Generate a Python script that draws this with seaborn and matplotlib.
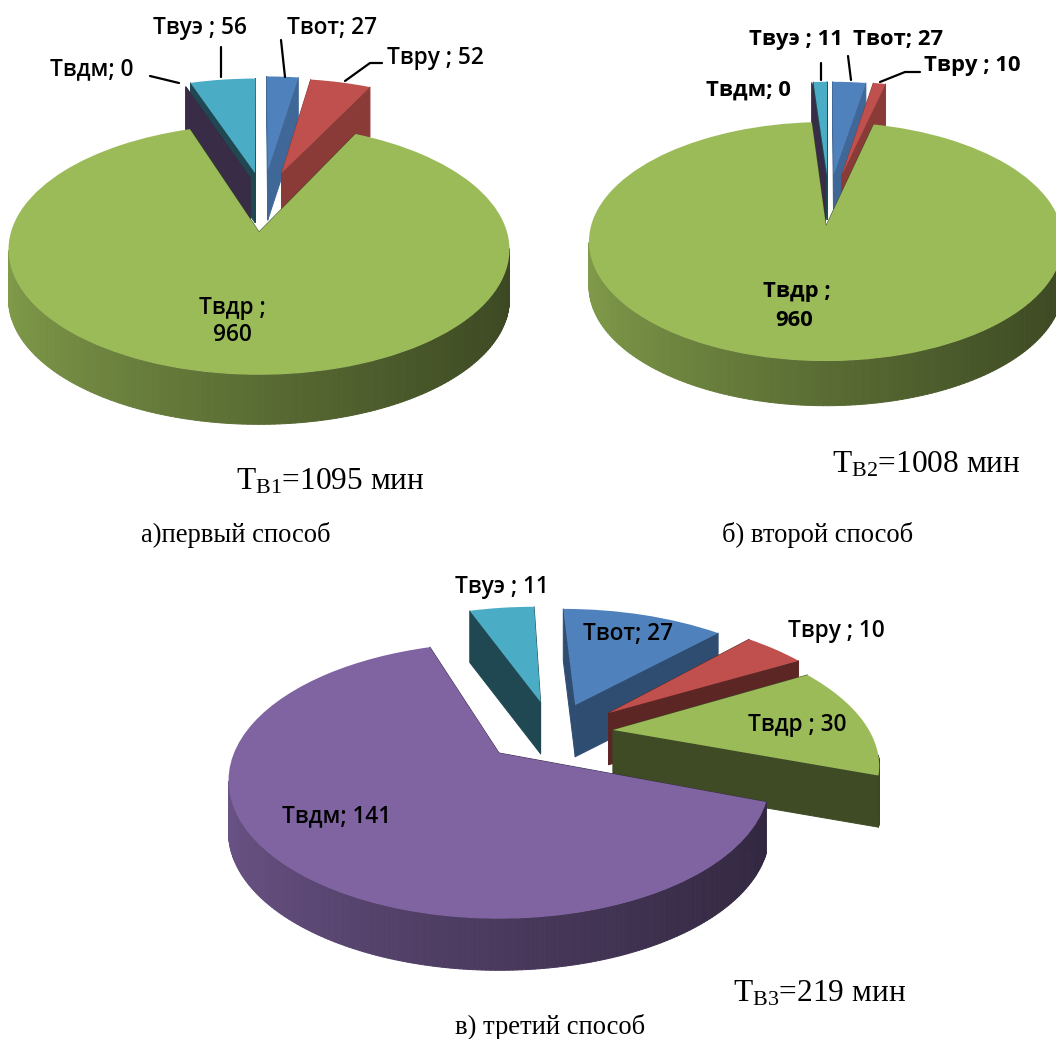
import numpy as np
import seaborn as sns
import matplotlib
matplotlib.use('Agg')
import matplotlib.pyplot as plt
from matplotlib.collections import PolyCollection
from matplotlib.colors import to_rgb
from matplotlib.transforms import Transform

sns.set_theme(style='white')
plt.rcParams['font.family'] = ['Open Sans', 'DejaVu Sans']
plt.rcParams['mathtext.fontset'] = 'custom'
plt.rcParams['mathtext.rm'] = 'Liberation Serif'

W, H = 1056, 1039

# данные
names = ['Твот', 'Твру', 'Твдр', 'Твдм', 'Твуэ']
values_1 = [27, 52, 960, 0, 56]
values_2 = [27, 10, 960, 0, 11]
values_3 = [27, 10, 30, 141, 11]
totals = ['1095', '1008', '219']

base_colors = ['#4f81bd', '#c0504d', '#9bbb59', '#8064a2', '#4bacc6']


class Perspective(Transform):
    # наклон круга: дальний край сжат, ближний растянут
    input_dims = output_dims = 2

    def __init__(self, p, k):
        super().__init__()
        self.p, self.k = p, k

    def transform_non_affine(self, values):
        values = np.asarray(values)
        s = 1 / (1 + self.p * values[:, 1])
        return np.column_stack([values[:, 0] * s, self.k * values[:, 1] * s])


def scale(color, f):
    return tuple(c * f for c in to_rgb(color))


def pie3d(values, cx, cy, a, p, k, depth, offsets, inner, order, lim=2.0):
    ax = fig.add_axes([(cx - lim * a) / W, 1 - (cy + lim * a) / H, 2 * lim * a / W, 2 * lim * a / H])
    wedges, _ = ax.pie(values, colors=base_colors, startangle=90, counterclock=False,
                       wedgeprops={'linewidth': 0})
    ax.set_aspect('auto')
    ax.set_xlim(-lim, lim)
    ax.set_ylim(-lim, lim)
    ax.axis('off')
    persp = Perspective(p, k)

    for rank, i in enumerate(order):
        w = wedges[i]
        w.set_center(offsets[i])
        w.set_transform(persp + ax.transData)
        w.set_zorder(10 + rank + 0.5)
        x0, y0 = offsets[i]
        t = np.radians(np.linspace(w.theta1, w.theta2, 300))
        rim = persp.transform_non_affine(np.column_stack([x0 + np.cos(t), y0 + np.sin(t)]))
        apex = persp.transform_non_affine(np.array([[x0, y0]]))[0]
        grad = sns.blend_palette([scale(base_colors[i], 0.84), scale(base_colors[i], 0.38)], 256)
        drop = np.array([0, depth])

        quads, cols = [], []
        # боковые стенки от центра к краю
        for end in (rim[0], rim[-1]):
            quads.append([apex, end, end - drop, apex - drop])
            cols.append(scale(base_colors[i], inner[i]))
        # внешняя стенка, только передняя часть
        for j in range(len(t) - 1):
            if np.sin(t[j]) > -p:
                continue
            quads.append([rim[j], rim[j + 1], rim[j + 1] - drop, rim[j] - drop])
            f = ((np.cos(t[j]) + 1) / 2) ** 0.8
            cols.append(grad[int(f * 255)])
        ax.add_collection(PolyCollection(quads, facecolors=cols, edgecolors=cols, linewidths=0.7,
                                         zorder=10 + rank))
    return ax


fig = plt.figure(figsize=(W / 100, H / 100), dpi=100)

pie3d(values_1, 259, 232, 248, 0.14, 0.495, 0.2,
      offsets=[(0.038, 0.54), (0.098, 0.515), (0, 0), (-0.038, 0.468), (-0.017, 0.515)],
      inner=[0.8, 0.72, 0.4, 0.44, 0.42], order=[4, 3, 0, 1, 2])
pie3d(values_2, 826, 226, 235, 0.13, 0.5, 0.19,
      offsets=[(0.034, 0.46), (0.072, 0.46), (0, 0), (-0.003, 0.45), (0.005, 0.46)],
      inner=[0.8, 0.72, 0.4, 0.44, 0.42], order=[4, 3, 0, 1, 2])
pie3d(values_3, 499, 753, 265, 0.2, 0.5, 0.195,
      offsets=[(0.31, 0.39), (0.44, 0.321), (0.446, 0.18), (0, 0), (0.17, 0.416)],
      inner=[0.6, 0.48, 0.4, 0.44, 0.42], order=[4, 0, 1, 2, 3])

# подписи в пикселях картинки
over = fig.add_axes([0, 0, 1, 1], zorder=50)
over.set_xlim(0, W)
over.set_ylim(H, 0)
over.axis('off')


def label(x, y, s, weight=600, size=16.3):
    over.text(x, y, s, ha='center', va='center', fontsize=size, fontweight=weight, color='black')


for x, y, i, sep in [(200, 28, 4, ' ; '), (332, 28, 0, '; '), (435, 58, 1, ' ; '), (92, 69, 3, '; ')]:
    label(x, y, f'{names[i]}{sep}{values_1[i]}')
label(232, 308, f'{names[2]} ;')
label(232, 335, str(values_1[2]))

for x, y, i, sep in [(796, 40, 4, ' ; '), (898, 40, 0, '; '), (972, 65, 1, ' ; '), (748, 90, 3, '; ')]:
    label(x, y, f'{names[i]}{sep}{values_2[i]}', weight='bold', size=15.8)
label(797, 291, f'{names[2]} ;', weight='bold', size=15.8)
label(794, 321, str(values_2[2]), weight='bold', size=15.8)

for x, y, i, sep in [(502, 587, 4, ' ; '), (628, 634, 0, '; '), (836, 631, 1, ' ; '),
                     (797, 725, 2, ' ; '), (337, 816, 3, '; ')]:
    label(x, y, f'{names[i]}{sep}{values_3[i]}')

# выноски
leaders = [([221, 221], [47, 77]), ([281, 285], [40, 77]), ([345, 370, 382], [81, 63, 63]),
           ([150, 179], [76, 83]), ([821, 821], [63, 80]), ([848, 851], [56, 80]),
           ([880, 905, 920], [82, 72, 72])]
for xs, ys in leaders:
    over.plot(xs, ys, color='black', lw=1.6)

# итоги и подписи способов
for x, y, sub, total in [(236, 482, 'В1', totals[0]), (832, 465, 'В2', totals[1]), (733, 994, 'В3', totals[2])]:
    over.text(x, y, rf'$\mathrm{{Т_{{{sub}}}}}$={total} мин', ha='left', va='center', fontsize=22.6,
              family='Liberation Serif', color='black')
for x, y, s in [(236, 535, 'а)первый способ'), (818, 535, 'б) второй способ'), (550, 1027, 'в) третий способ')]:
    over.text(x, y, s, ha='center', va='center', fontsize=19.2, family='Liberation Serif', color='black')

fig.savefig('out.png', dpi=100)
